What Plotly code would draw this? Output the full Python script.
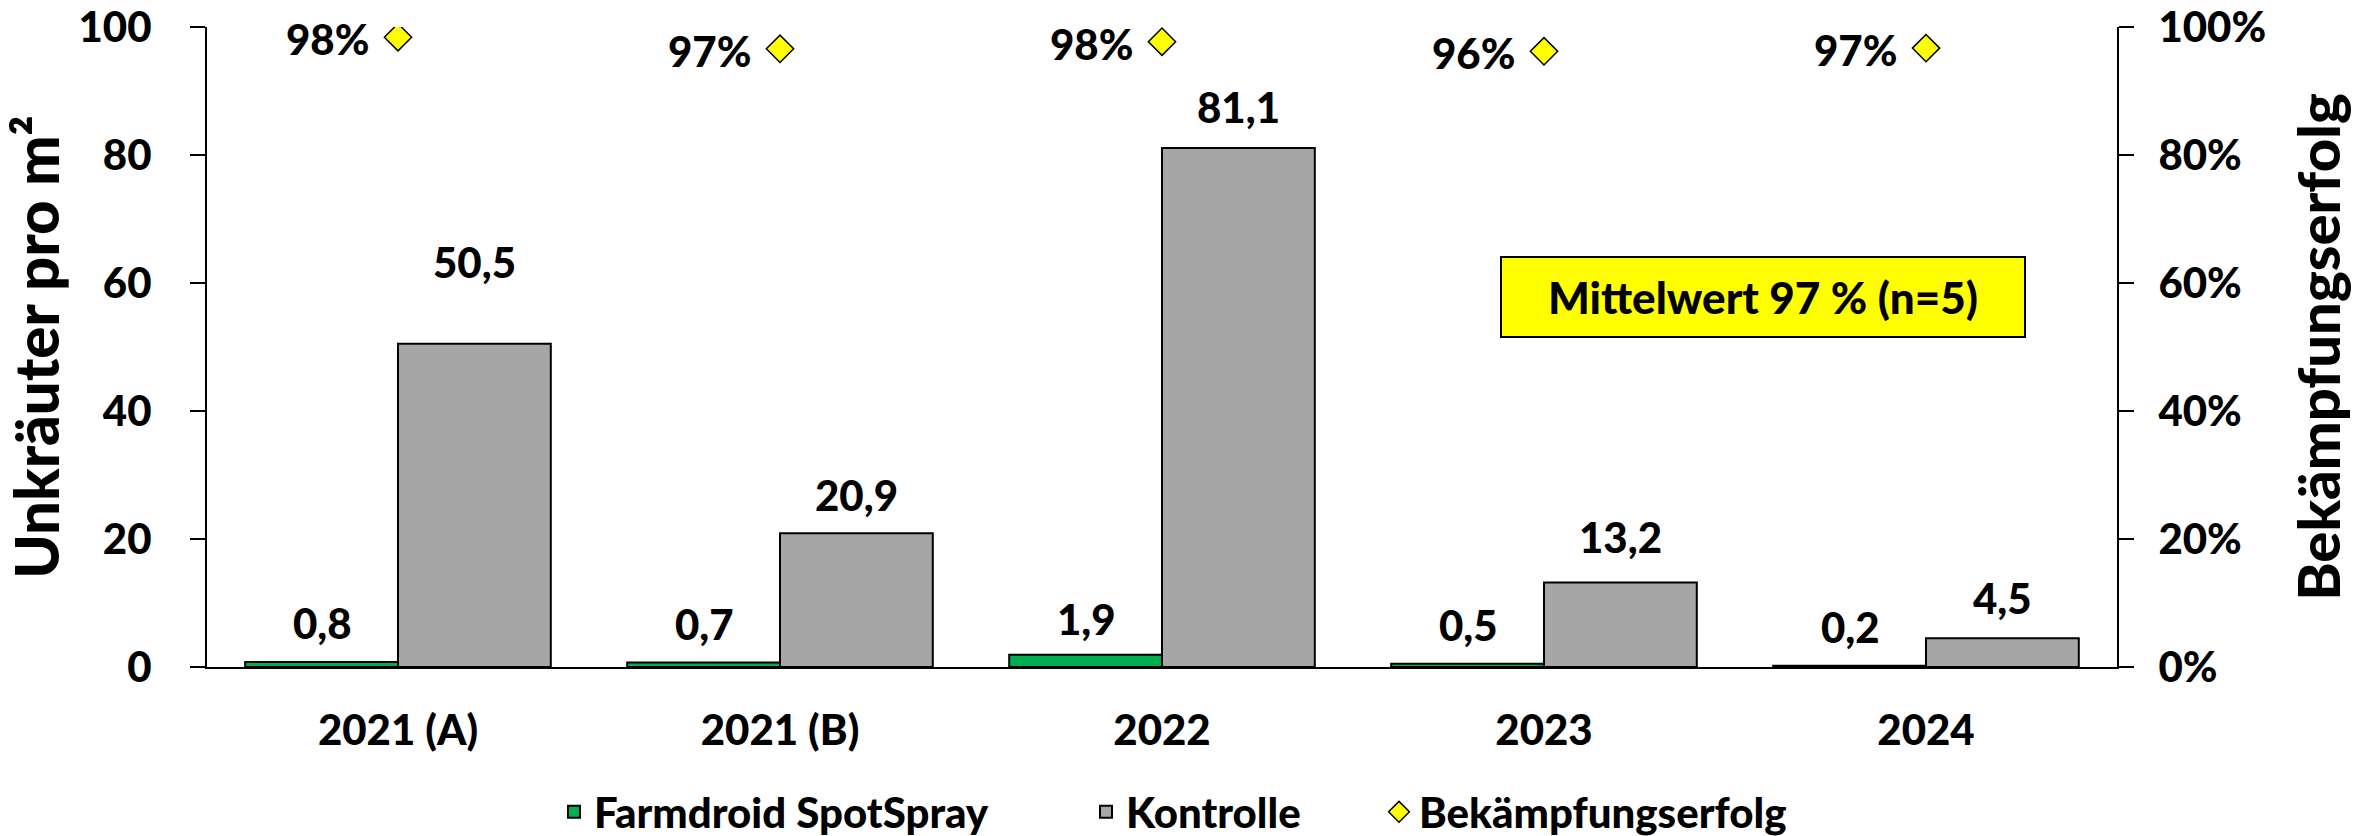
import plotly.graph_objects as go

# ---------------- data ----------------
categories = ["2021 (A)", "2021 (B)", "2022", "2023", "2024"]
spotspray = [0.8, 0.7, 1.9, 0.5, 0.2]
kontrolle = [50.5, 20.9, 81.1, 13.2, 4.5]
erfolg = [0.984, 0.966, 0.977, 0.962, 0.967]
erfolg_labels = ["98%", "97%", "98%", "96%", "97%"]
spot_labels = ["0,8", "0,7", "1,9", "0,5", "0,2"]
kontrolle_labels = ["50,5", "20,9", "81,1", "13,2", "4,5"]
mean_text = "Mittelwert 97 % (n=5)"

# ---------------- styling ----------------
FONT = "Lato"
WEIGHT = 900
GREEN = "#00B050"
GRAY = "#A6A6A6"
YELLOW = "#FFFF00"
W, H = 2379, 836
# plot area in pixels: x 207..2117, y 27..667
ML, MT = 207, 27
MR, MB = W - 2117, H - 667
BAR_OFFSET = 76  # px from category centre to each bar centre
spot_lift = [39, 39, 36, 39, 39]        # px from bar top to label centre
kontrolle_lift = [82, 38, 41, 46, 40]

fig = go.Figure()
fig.add_trace(go.Bar(
    x=categories, y=spotspray, name="Farmdroid SpotSpray",
    marker=dict(color=GREEN, line=dict(color="black", width=2)),
    legend="legend",
))
fig.add_trace(go.Bar(
    x=categories, y=kontrolle, name="Kontrolle",
    marker=dict(color=GRAY, line=dict(color="black", width=2)),
    legend="legend2",
))
fig.add_trace(go.Scatter(
    x=categories, y=erfolg, name="Bekämpfungserfolg", yaxis="y2",
    mode="markers",
    marker=dict(symbol="diamond", size=21, color=YELLOW,
                line=dict(color="black", width=1.5)),
    legend="legend3",
))

lblfont = dict(family=FONT, size=42, color="black", weight=WEIGHT)
annotations = []
for i, (v, t, lift) in enumerate(zip(spotspray, spot_labels, spot_lift)):
    annotations.append(dict(x=i, y=v, xref="x", yref="y", text=t,
                            showarrow=False, xshift=-BAR_OFFSET, yshift=lift,
                            yanchor="middle", font=lblfont))
for i, (v, t, lift) in enumerate(zip(kontrolle, kontrolle_labels, kontrolle_lift)):
    annotations.append(dict(x=i, y=v, xref="x", yref="y", text=t,
                            showarrow=False, xshift=BAR_OFFSET, yshift=lift,
                            yanchor="middle", font=lblfont))
for i, (v, t) in enumerate(zip(erfolg, erfolg_labels)):
    annotations.append(dict(x=i, y=v, xref="x", yref="y2", text=t,
                            showarrow=False, xanchor="right", xshift=-27, yshift=-2,
                            yanchor="middle", font=lblfont))
annotations.append(dict(
    x=0.8147, y=57.8, xref="paper", yref="y", text=mean_text, showarrow=False,
    xanchor="center", yanchor="middle",
    bgcolor=YELLOW, bordercolor="black", borderwidth=2, borderpad=10,
    width=502, height=58,
    font=dict(family=FONT, size=44, color="black", weight=WEIGHT),
))

tickfont = dict(family=FONT, size=42, color="black", weight=WEIGHT)
legfont = dict(family=FONT, size=42, color="black", weight=WEIGHT)
LEG_Y = 1 - 812 / H

fig.update_layout(
    width=W, height=H,
    margin=dict(l=ML, r=MR, t=MT, b=MB, autoexpand=False),
    paper_bgcolor="white", plot_bgcolor="white",
    barmode="group", bargap=0.2, bargroupgap=0,
    font=dict(family=FONT, color="black"),
    annotations=annotations,
    xaxis=dict(
        type="category", range=[-0.5, len(categories) - 0.5],
        showline=True, linecolor="black", linewidth=2,
        ticks="", tickfont=tickfont, ticklabelstandoff=26, showgrid=False,
    ),
    yaxis=dict(
        range=[0, 100], dtick=20, showline=True, linecolor="black", linewidth=2,
        ticks="outside", ticklen=15, tickwidth=2, tickcolor="black",
        tickfont=tickfont, ticklabelstandoff=30, ticklabeloverflow="allow",
        showgrid=False, zeroline=False,
        title=dict(text="Unkräuter pro m²",
                   font=dict(family=FONT, size=60, color="black", weight=WEIGHT),
                   standoff=4),
    ),
    yaxis2=dict(
        range=[0, 1], dtick=0.2, tickformat=".0%", overlaying="y", side="right",
        showline=True, linecolor="black", linewidth=2,
        ticks="outside", ticklen=15, tickwidth=2, tickcolor="black",
        tickfont=tickfont, ticklabelstandoff=16, ticklabeloverflow="allow",
        showgrid=False, zeroline=False,
        title=dict(text="Bekämpfungserfolg",
                   font=dict(family=FONT, size=58, color="black", weight=WEIGHT),
                   standoff=34),
    ),
    legend=dict(orientation="h", xref="container", yref="container",
                x=554 / W, y=LEG_Y, xanchor="left", yanchor="middle",
                font=legfont, bgcolor="rgba(0,0,0,0)"),
    legend2=dict(orientation="h", xref="container", yref="container",
                 x=1086 / W, y=LEG_Y, xanchor="left", yanchor="middle",
                 font=legfont, bgcolor="rgba(0,0,0,0)"),
    legend3=dict(orientation="h", xref="container", yref="container",
                 x=1379 / W, y=LEG_Y, xanchor="left", yanchor="middle",
                 font=legfont, bgcolor="rgba(0,0,0,0)"),
    showlegend=True,
)

# remove the default 8px page margin so the figure fills the window exactly
fig.write_html("out.html", config={"displayModeBar": False},
               post_script="document.body.style.margin='0px';")
